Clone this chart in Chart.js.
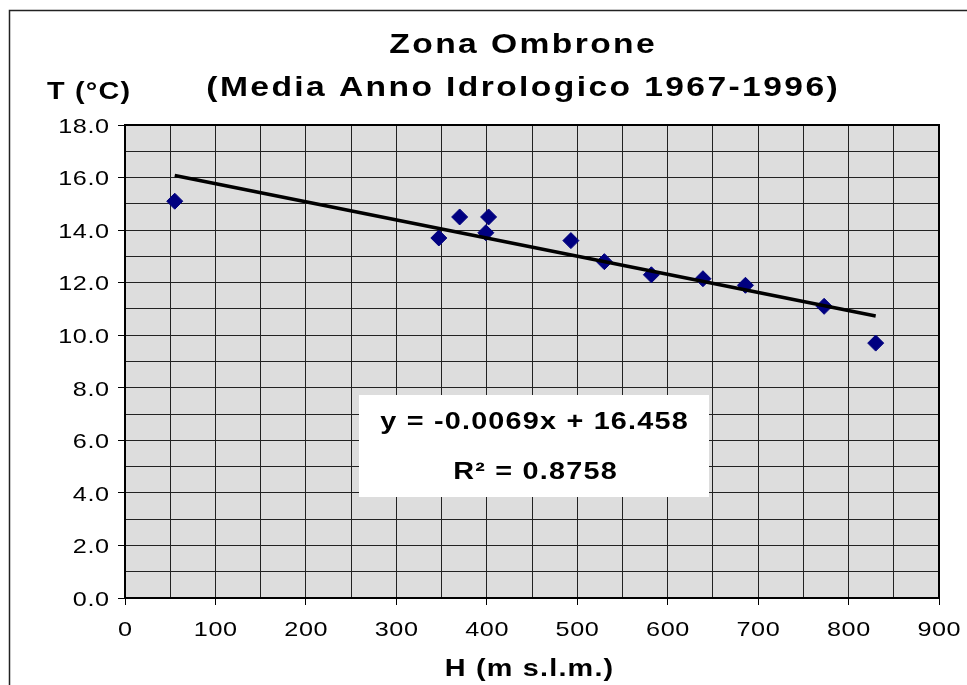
<!DOCTYPE html>
<html>
<head>
<meta charset="utf-8">
<script src="https://cdn.jsdelivr.net/npm/chart.js@4"></script>
<style>
  body { margin: 0; background: #fff; }
</style>
</head>
<body>
<canvas id="ombrone" width="967" height="685"></canvas>
<script>
// quota (m s.l.m.) e temperatura media (°C) delle stazioni
var heights = [55, 347, 370, 402, 399, 493, 530, 582, 639, 686, 773, 830];
var temps = [15.1, 13.7, 14.5, 14.5, 13.9, 13.6, 12.8, 12.3, 12.15, 11.9, 11.1, 9.7];

// retta di tendenza lineare (come in Excel)
var slope = -0.0069;
var intercept = 16.458;
var rSquared = 0.8758;

var xTickLabels = [0, 100, 200, 300, 400, 500, 600, 700, 800, 900];
var yTickLabels = [0, 2, 4, 6, 8, 10, 12, 14, 16, 18];

var titleLines = ['Zona Ombrone', '(Media Anno Idrologico 1967-1996)'];
var xTitle = 'H (m s.l.m.)';
var yTitle = 'T (°C)';

var FONT = '"Liberation Sans", Arial, sans-serif';
var STRETCH = 1.2; // il grafico originale ha il testo un po' allargato

var points = heights.map(function (h, i) { return { x: h, y: temps[i] }; });
var hMin = Math.min.apply(null, heights);
var hMax = Math.max.apply(null, heights);
var trend = [hMin, hMax].map(function (h) { return { x: h, y: slope * h + intercept }; });

function wideText(ctx, text, x, y, font, align, spacing) {
  ctx.save();
  ctx.font = font;
  ctx.letterSpacing = spacing + 'px';
  ctx.textAlign = 'left';
  ctx.textBaseline = 'middle';
  var w = ctx.measureText(text).width - spacing;
  var off = align === 'center' ? -w / 2 : align === 'right' ? -w : 0;
  ctx.translate(x, y);
  ctx.scale(STRETCH, 1);
  ctx.fillText(text, off, 0);
  ctx.restore();
}

var frame = {
  id: 'frame',
  beforeDraw: function (chart) {
    var ctx = chart.ctx, a = chart.chartArea;
    ctx.save();
    ctx.fillStyle = '#dddddd';
    ctx.fillRect(a.left, a.top, a.right - a.left, a.bottom - a.top);
    ctx.strokeStyle = '#222';
    ctx.lineWidth = 1.5;
    ctx.beginPath();
    ctx.moveTo(9.5, chart.height);
    ctx.lineTo(9.5, 10.5);
    ctx.lineTo(chart.width, 10.5);
    ctx.stroke();
    ctx.restore();

    ctx.fillStyle = '#000';
    var bold28 = 'bold 28px ' + FONT, bold24 = 'bold 24px ' + FONT;
    wideText(ctx, titleLines[0], 522, 45, bold28, 'center', 2);
    wideText(ctx, titleLines[1], 522, 88, bold28, 'center', 2);
    wideText(ctx, yTitle, 47, 92, bold24, 'left', 1);
    wideText(ctx, xTitle, 529, 669, bold24, 'center', 1);
  },
  afterDraw: function (chart) {
    var ctx = chart.ctx, a = chart.chartArea;
    var xs = chart.scales.x, ys = chart.scales.y;
    ctx.save();
    ctx.strokeStyle = '#000';
    ctx.lineWidth = 2;
    ctx.strokeRect(a.left, a.top, a.right - a.left, a.bottom - a.top);

    // etichette degli assi, posizionate dalle scale del grafico
    ctx.fillStyle = '#000';
    var reg = '21px ' + FONT;
    xs.ticks.forEach(function (t) {
      if (xTickLabels.indexOf(t.value) < 0) return;
      wideText(ctx, String(t.value), xs.getPixelForValue(t.value), 630, reg, 'center', 0.5);
    });
    ys.ticks.forEach(function (t) {
      if (yTickLabels.indexOf(t.value) < 0) return;
      wideText(ctx, t.value.toFixed(1), 109, ys.getPixelForValue(t.value) + 2, reg, 'right', 0.5);
    });

    // riquadro equazione
    ctx.fillStyle = '#fff';
    ctx.fillRect(359, 395, 350, 102);
    ctx.fillStyle = '#000';
    var bold24 = 'bold 24px ' + FONT;
    wideText(ctx, 'y = ' + slope.toFixed(4) + 'x + ' + intercept.toFixed(3), 534, 422, bold24, 'center', 1);
    wideText(ctx, 'R\u00B2 = ' + rSquared.toFixed(4), 535, 472, bold24, 'center', 1);
    ctx.restore();
  }
};

new Chart(document.getElementById('ombrone'), {
  type: 'scatter',
  data: {
    datasets: [{
      type: 'line',
      data: trend,
      borderColor: '#000',
      borderWidth: 3.5,
      pointRadius: 0,
      order: 0
    }, {
      data: points,
      pointStyle: 'rectRot',
      pointRadius: 8,
      backgroundColor: '#000080',
      borderColor: '#000080',
      borderWidth: 1,
      order: 1
    }]
  },
  options: {
    responsive: false,
    animation: false,
    layout: { padding: { top: 125, right: 28, left: 0, bottom: 0 } },
    plugins: {
      legend: { display: false },
      tooltip: { enabled: false }
    },
    scales: {
      x: {
        type: 'linear',
        min: 0,
        max: 900,
        ticks: { stepSize: 50, display: false, autoSkip: false },
        grid: {
          color: '#222',
          tickLength: 7,
          tickColor: function (c) { return c.tick && xTickLabels.indexOf(c.tick.value) >= 0 ? '#000' : 'rgba(0,0,0,0)'; }
        },
        border: { color: '#000', width: 2 },
        afterFit: function (s) { s.height = 87; }
      },
      y: {
        min: 0,
        max: 18,
        ticks: { stepSize: 1, display: false, autoSkip: false },
        grid: {
          color: '#222',
          tickLength: 7,
          tickColor: function (c) { return c.tick && yTickLabels.indexOf(c.tick.value) >= 0 ? '#000' : 'rgba(0,0,0,0)'; }
        },
        border: { color: '#000', width: 2 },
        afterFit: function (s) { s.width = 125; }
      }
    }
  },
  plugins: [frame]
});
</script>
</body>
</html>
